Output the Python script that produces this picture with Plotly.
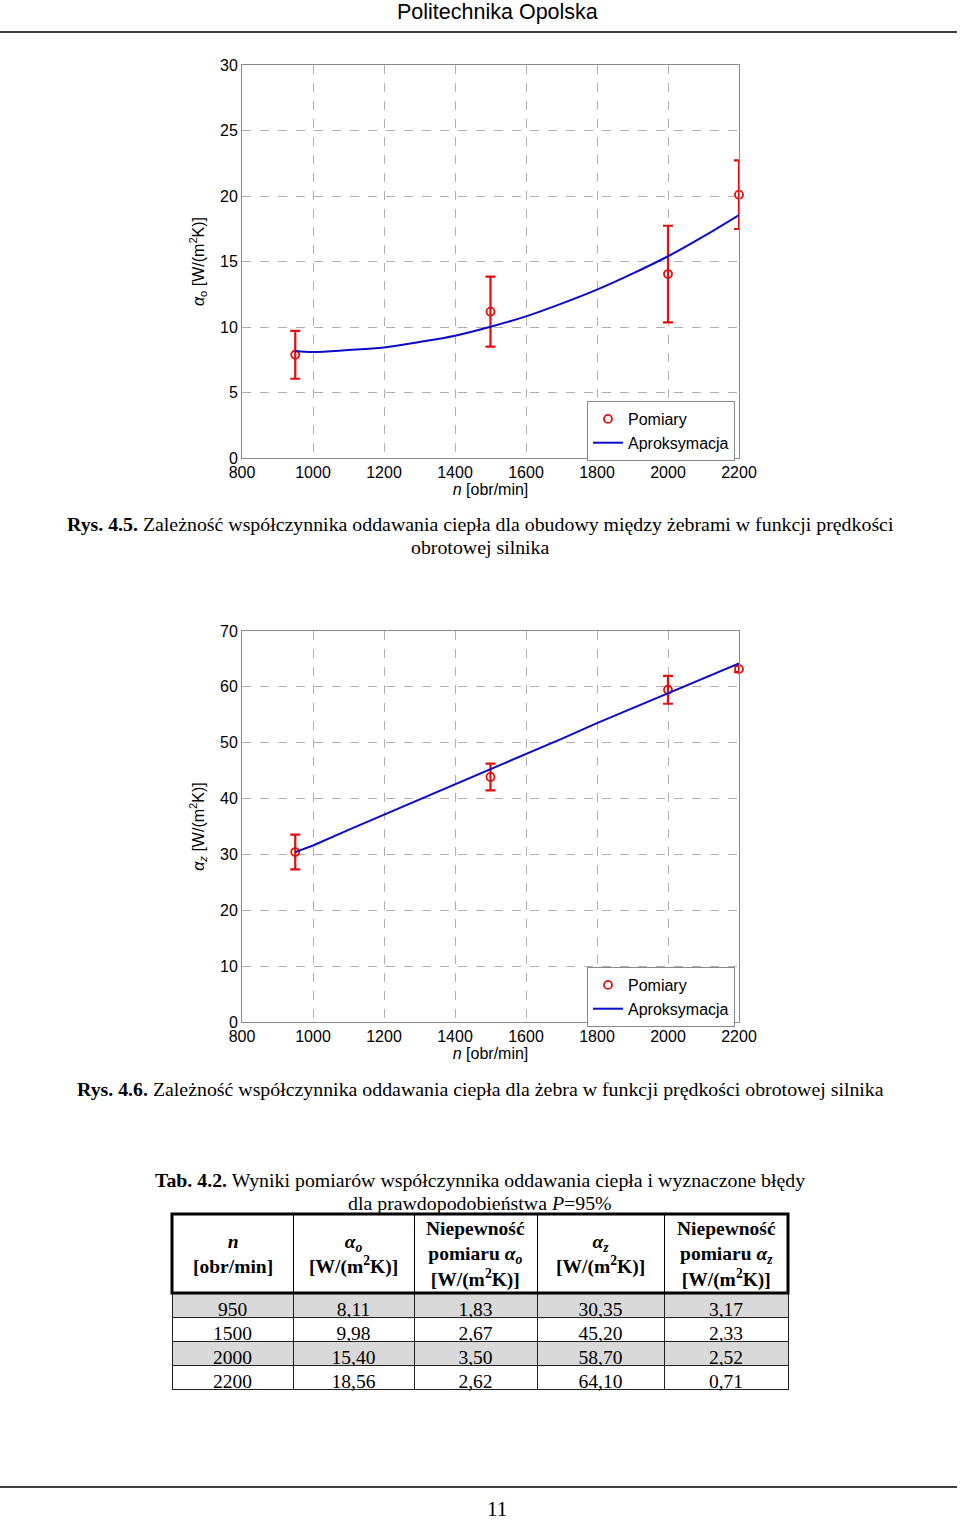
import plotly.graph_objects as go

W, H = 960, 1520

# ---------------- data ----------------
n_meas = [950, 1500, 2000, 2200]
alpha_o_meas = [7.88, 11.17, 14.04, 20.10]
alpha_o_err = [1.83, 2.67, 3.69, 2.62]
n_fit = [950, 1000, 1100, 1200, 1300, 1400, 1500, 1600, 1700, 1800, 1900, 2000, 2100, 2200]
alpha_o_fit = [8.17, 8.09, 8.24, 8.44, 8.85, 9.33, 10.02, 10.81, 11.78, 12.85, 14.07, 15.40, 16.92, 18.55]

alpha_z_meas = [30.42, 43.87, 59.48, 63.18]
alpha_z_err = [3.11, 2.40, 2.50, 0.55]
alpha_z_fit = [30.42, 31.6, 34.4, 37.1, 39.8, 42.5, 45.2, 47.9, 50.7, 53.5, 56.2, 58.9, 61.6, 64.2]

x_ticks = [800, 1000, 1200, 1400, 1600, 1800, 2000, 2200]
yo_ticks = [0, 5, 10, 15, 20, 25, 30]
yz_ticks = [0, 10, 20, 30, 40, 50, 60, 70]

tab_n = ["950", "1500", "2000", "2200"]
tab_ao = ["8,11", "9,98", "15,40", "18,56"]
tab_ao_err = ["1,83", "2,67", "3,50", "2,62"]
tab_az = ["30,35", "45,20", "58,70", "64,10"]
tab_az_err = ["3,17", "2,33", "2,52", "0,71"]
tab_headers = [
    "<b><i>n</i><br>[obr/min]</b>",
    "<b><i>α<sub>o</sub></i><br>[W/(m<sup>2</sup>K)]</b>",
    "<b>Niepewność<br>pomiaru <i>α<sub>o</sub></i><br>[W/(m<sup>2</sup>K)]</b>",
    "<b><i>α<sub>z</sub></i><br>[W/(m<sup>2</sup>K)]</b>",
    "<b>Niepewność<br>pomiaru <i>α<sub>z</sub></i><br>[W/(m<sup>2</sup>K)]</b>",
]
tab_colwidths = [121, 121, 123, 127, 124]

# ---------------- helpers (layout only) ----------------
def PX(px):
    return px / W

def PY(py):
    return 1 - py / H

SANS = "Liberation Sans"
SERIF = "Liberation Serif"
RED = "#e01010"
BLUE = "#0a0ac8"

fig = go.Figure()

# Chart 1
fig.add_trace(go.Scatter(
    x=n_meas, y=alpha_o_meas, mode="markers", name="Pomiary", cliponaxis=False,
    marker=dict(symbol="circle-open", size=8, color=RED, line=dict(width=1.8, color=RED)),
    error_y=dict(type="data", array=alpha_o_err, visible=True, color=RED, thickness=2.2, width=5),
    xaxis="x", yaxis="y", legend="legend"))
fig.add_trace(go.Scatter(
    x=n_fit, y=alpha_o_fit, mode="lines", name="Aproksymacja",
    line=dict(color=BLUE, width=2, shape="spline"),
    xaxis="x", yaxis="y", legend="legend"))

# Chart 2
fig.add_trace(go.Scatter(
    x=n_meas, y=alpha_z_meas, mode="markers", name="Pomiary", cliponaxis=False,
    marker=dict(symbol="circle-open", size=8, color=RED, line=dict(width=1.8, color=RED)),
    error_y=dict(type="data", array=alpha_z_err, visible=True, color=RED, thickness=2.2, width=5),
    xaxis="x2", yaxis="y2", legend="legend2"))
fig.add_trace(go.Scatter(
    x=n_fit, y=alpha_z_fit, mode="lines", name="Aproksymacja",
    line=dict(color=BLUE, width=2),
    xaxis="x2", yaxis="y2", legend="legend2"))

# Table
row_fill = ["#d9d9d9", "white", "#d9d9d9", "white"]
fig.add_trace(go.Table(
    domain=dict(x=[PX(172), PX(788)], y=[PY(1420), PY(1214)]),
    columnwidth=tab_colwidths,
    header=dict(values=[""] * 5, height=79, fill_color="white",
                line=dict(color="black", width=1)),
    cells=dict(values=[tab_n, tab_ao, tab_ao_err, tab_az, tab_az_err], height=24,
               fill_color=[row_fill] * 5, line=dict(color="#222222", width=1),
               font=dict(family=SERIF, size=19.5, color="black"), align="center"),
))

axis_common = dict(
    showgrid=True, gridcolor="#b0b0b0", griddash="dash", gridwidth=1,
    showline=True, linecolor="#8a8a8a", linewidth=1, mirror=True,
    zeroline=False, ticks="", automargin=False,
    tickfont=dict(family=SANS, size=16, color="black"),
)

xtitle = dict(text="<i>n</i> [obr/min]", font=dict(family=SANS, size=16, color="black"), standoff=2)

fig.update_layout(
    width=W, height=H,
    margin=dict(l=0, r=0, t=0, b=0),
    paper_bgcolor="white", plot_bgcolor="white",
    xaxis=dict(axis_common, domain=[PX(242), PX(739)], range=[800, 2200], tickvals=x_ticks,
               anchor="y", title=xtitle),
    yaxis=dict(axis_common, domain=[PY(458), PY(65)], range=[0, 30], tickvals=yo_ticks,
               anchor="x",
               title=dict(text="<i>α</i><sub>o</sub> [W/(m<sup>2</sup>K)]",
                          font=dict(family=SANS, size=16, color="black"), standoff=11)),
    xaxis2=dict(axis_common, domain=[PX(242), PX(739)], range=[800, 2200], tickvals=x_ticks,
                anchor="y2", title=xtitle),
    yaxis2=dict(axis_common, domain=[PY(1022), PY(631)], range=[0, 70], tickvals=yz_ticks,
                anchor="x2",
                title=dict(text="<i>α<sub>z</sub></i> [W/(m<sup>2</sup>K)]",
                           font=dict(family=SANS, size=16, color="black"), standoff=11)),
    legend=dict(x=PX(735), y=PY(461), xanchor="right", yanchor="bottom", bgcolor="white",
                bordercolor="#8a8a8a", borderwidth=1, font=dict(family=SANS, size=16, color="black")),
    legend2=dict(x=PX(735), y=PY(1027), xanchor="right", yanchor="bottom", bgcolor="white",
                 bordercolor="#8a8a8a", borderwidth=1, font=dict(family=SANS, size=16, color="black")),
    showlegend=True,
)

# Page decorations
shapes = [
    dict(type="line", xref="paper", yref="paper", x0=PX(0), x1=PX(957), y0=PY(32), y1=PY(32),
         line=dict(color="black", width=1.5)),
    dict(type="line", xref="paper", yref="paper", x0=PX(0), x1=PX(957), y0=PY(1487), y1=PY(1487),
         line=dict(color="black", width=1.5)),
    dict(type="rect", xref="paper", yref="paper", x0=PX(172), x1=PX(788), y0=PY(1293), y1=PY(1214),
         line=dict(color="black", width=3)),
]
fig.update_layout(shapes=shapes)

cap = dict(family=SERIF, size=19.85, color="black")
annotations = [
    dict(text="Politechnika Opolska", x=PX(497), y=PY(12), font=dict(family=SANS, size=21.5, color="black")),
    dict(text="<b>Rys. 4.5.</b> Zależność współczynnika oddawania ciepła dla obudowy między żebrami w funkcji prędkości",
         x=PX(480), y=PY(524), font=cap),
    dict(text="obrotowej silnika", x=PX(480), y=PY(547), font=cap),
    dict(text="<b>Rys. 4.6.</b> Zależność współczynnika oddawania ciepła dla żebra w funkcji prędkości obrotowej silnika",
         x=PX(480), y=PY(1089), font=cap),
    dict(text="<b>Tab. 4.2.</b> Wyniki pomiarów współczynnika oddawania ciepła i wyznaczone błędy",
         x=PX(480), y=PY(1180), font=cap),
    dict(text="dla prawdopodobieństwa <i>P</i>=95%", x=PX(480), y=PY(1203), font=cap),
    dict(text="11", x=PX(497), y=PY(1509), font=dict(family=SERIF, size=21, color="black")),
]
left = 172
total = sum(tab_colwidths)
for w_, htxt in zip(tab_colwidths, tab_headers):
    cx = left + w_ * 616 / total / 2
    annotations.append(dict(text=htxt, x=PX(cx), y=PY(1254), align="center",
                            font=dict(family=SERIF, size=19.5, color="black")))
    left += w_ * 616 / total

for a in annotations:
    a.update(xref="paper", yref="paper", showarrow=False, xanchor="center", yanchor="middle")
fig.update_layout(annotations=annotations)

fig.write_html("out.html", config={"displayModeBar": False},
               post_script="document.body.style.margin='0';")
